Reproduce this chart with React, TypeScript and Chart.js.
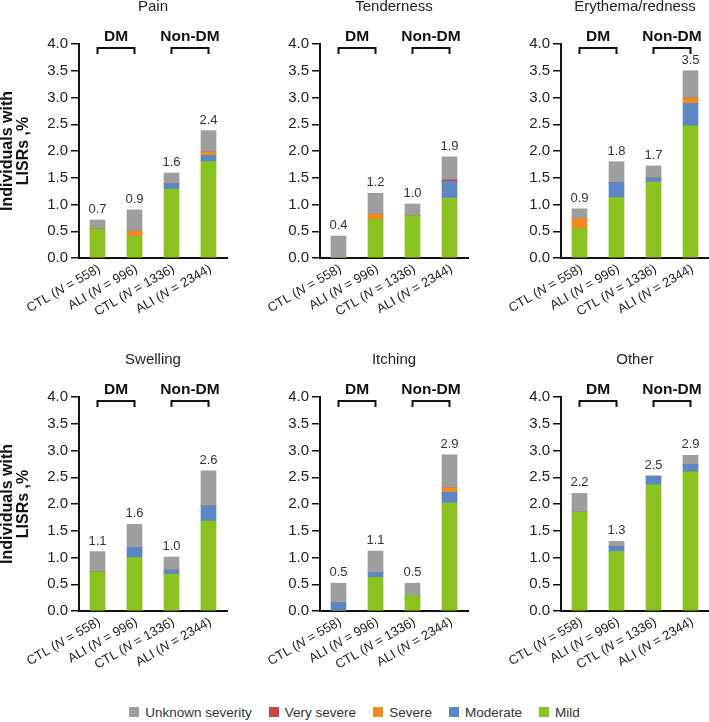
import React, { useEffect, useRef } from "react";
import { Chart, registerables } from "chart.js";

Chart.register(...registerables);

const FONT = '"Liberation Sans", Arial, Helvetica, sans-serif';
Chart.defaults.font.family = FONT;

// ---------- data ----------
const arms = ["CTL", "ALI", "CTL", "ALI"];
const groupSizes = [558, 996, 1336, 2344];
const groupLabels = ["DM", "Non-DM"];
const panelTitles = ["Pain", "Tenderness", "Erythema/redness", "Swelling", "Itching", "Other"];
const yTitle = ["Individuals with", "LISRs ,%"];

const severityNames = ["Mild", "Moderate", "Severe", "Very severe", "Unknown severity"];
const severityColors = ["#8cc21f", "#5b87c7", "#f28a1c", "#c8464a", "#9e9e9e"];
const legendOrder = ["Unknown severity", "Very severe", "Severe", "Moderate", "Mild"];

const painMild = [0.54, 0.40, 1.29, 1.80];
const painModerate = [0, 0, 0.10, 0.12];
const painSevere = [0, 0.10, 0, 0.06];
const painVerySevere = [0, 0, 0, 0];
const painUnknown = [0.17, 0.40, 0.20, 0.40];

const tenderMild = [0, 0.72, 0.79, 1.12];
const tenderModerate = [0, 0, 0, 0.31];
const tenderSevere = [0, 0.10, 0, 0];
const tenderVerySevere = [0, 0, 0, 0.03];
const tenderUnknown = [0.41, 0.39, 0.22, 0.43];

const eryMild = [0.55, 1.13, 1.42, 2.47];
const eryModerate = [0, 0.28, 0.08, 0.42];
const erySevere = [0.19, 0, 0, 0.10];
const eryVerySevere = [0, 0, 0, 0];
const eryUnknown = [0.18, 0.39, 0.22, 0.51];

const swellMild = [0.73, 1.00, 0.69, 1.68];
const swellModerate = [0, 0.19, 0.08, 0.29];
const swellSevere = [0, 0, 0, 0];
const swellVerySevere = [0, 0, 0, 0];
const swellUnknown = [0.38, 0.43, 0.24, 0.65];

const itchMild = [0, 0.63, 0.29, 2.02];
const itchModerate = [0.16, 0.09, 0, 0.20];
const itchSevere = [0, 0, 0, 0.08];
const itchVerySevere = [0, 0, 0, 0];
const itchUnknown = [0.36, 0.40, 0.23, 0.62];

const otherMild = [1.85, 1.11, 2.36, 2.60];
const otherModerate = [0, 0.10, 0.16, 0.14];
const otherSevere = [0, 0, 0, 0];
const otherVerySevere = [0, 0, 0, 0];
const otherUnknown = [0.35, 0.09, 0, 0.17];

const panelSeries = [
  [painMild, painModerate, painSevere, painVerySevere, painUnknown],
  [tenderMild, tenderModerate, tenderSevere, tenderVerySevere, tenderUnknown],
  [eryMild, eryModerate, erySevere, eryVerySevere, eryUnknown],
  [swellMild, swellModerate, swellSevere, swellVerySevere, swellUnknown],
  [itchMild, itchModerate, itchSevere, itchVerySevere, itchUnknown],
  [otherMild, otherModerate, otherSevere, otherVerySevere, otherUnknown],
];

// ---------- layout ----------
const colLeft = [0, 236, 472];
const colWidth = [236, 236, 237];
const axisX = [79, 320, 561];
const plotRight = [227, 468, 709];
const rowTop = [0, 340];
const rowHeight = 340;
const plotTop = [44, 397];
const plotBottom = [258, 611];

const decorPlugin = {
  id: "decor",
  afterDraw(chart: any, _args: any, opts: any) {
    const { ctx, chartArea } = chart;
    const xs = chart.scales.x;
    const ys = chart.scales.y;
    ctx.save();
    // panel title
    ctx.fillStyle = "#222";
    ctx.font = `15px ${FONT}`;
    ctx.textAlign = "center";
    ctx.textBaseline = "middle";
    ctx.fillText(opts.title, (chartArea.left + chartArea.right) / 2, chartArea.top - 37);

    // group labels and brackets
    ctx.font = `bold 15.5px ${FONT}`;
    ctx.strokeStyle = "#111";
    ctx.lineWidth = 2;
    for (let g = 0; g < groupLabels.length; g++) {
      const x0 = xs.getPixelForValue(2 * g);
      const x1 = xs.getPixelForValue(2 * g + 1);
      ctx.fillStyle = "#111";
      ctx.fillText(groupLabels[g], (x0 + x1) / 2, chartArea.top - 7.5);
      ctx.beginPath();
      ctx.moveTo(x0, chartArea.top + 10);
      ctx.lineTo(x0, chartArea.top + 4);
      ctx.lineTo(x1, chartArea.top + 4);
      ctx.lineTo(x1, chartArea.top + 10);
      ctx.stroke();
    }

    // totals
    ctx.font = `13px ${FONT}`;
    ctx.fillStyle = "#333";
    ctx.textBaseline = "alphabetic";
    const n = chart.data.labels.length;
    for (let i = 0; i < n; i++) {
      let total = 0;
      chart.data.datasets.forEach((d: any) => (total += d.data[i]));
      const x = xs.getPixelForValue(i);
      const y = ys.getPixelForValue(total);
      ctx.fillText(total.toFixed(1), x, y - 7);
    }

    // rotated x labels with italic N
    const normal = `13px ${FONT}`;
    const italic = `italic 13px ${FONT}`;
    ctx.fillStyle = "#222";
    ctx.textAlign = "left";
    ctx.textBaseline = "middle";
    for (let i = 0; i < n; i++) {
      const parts: [string, boolean][] = [
        [`${arms[i]} (`, false],
        ["N", true],
        [` = ${groupSizes[i]})`, false],
      ];
      let W = 0;
      const widths = parts.map(([t, it]) => {
        ctx.font = it ? italic : normal;
        const w = ctx.measureText(t).width;
        W += w;
        return w;
      });
      const x = xs.getPixelForValue(i);
      ctx.save();
      ctx.translate(x + 2, chartArea.bottom + 10);
      ctx.rotate(-Math.PI / 6);
      let cx = -W;
      parts.forEach(([t, it], k) => {
        ctx.font = it ? italic : normal;
        ctx.fillText(t, cx, 0);
        cx += widths[k];
      });
      ctx.restore();
    }
    ctx.restore();
  },
};

function Panel({ index }: { index: number }) {
  const ref = useRef<HTMLCanvasElement>(null);
  const c = index % 3;
  const r = Math.floor(index / 3);
  const left = colLeft[c];
  const top = rowTop[r];
  const width = colWidth[c];
  const height = rowHeight;

  useEffect(() => {
    if (!ref.current) return;
    const series = panelSeries[index];
    const chart = new Chart(ref.current, {
      type: "bar",
      data: {
        labels: arms.map((a, i) => `${a} (N = ${groupSizes[i]})`),
        datasets: severityNames.map((name, k) => ({
          label: name,
          data: series[k],
          backgroundColor: severityColors[k],
          borderWidth: 0,
          barThickness: 15,
        })),
      },
      options: {
        responsive: false,
        animation: false,
        devicePixelRatio: 1,
        layout: {
          padding: {
            top: plotTop[r] - top,
            right: left + width - plotRight[c],
            left: 0,
            bottom: 0,
          },
        },
        plugins: {
          legend: { display: false },
          tooltip: { enabled: false },
          decor: { title: panelTitles[index] },
        } as any,
        scales: {
          x: {
            stacked: true,
            grid: { display: false },
            border: { display: true, color: "#111", width: 2 },
            ticks: { display: false },
            afterFit: (s: any) => {
              s.height = top + height - plotBottom[r];
            },
          },
          y: {
            stacked: true,
            min: 0,
            max: 4,
            ticks: {
              stepSize: 0.5,
              color: "#222",
              padding: 3,
              font: { size: 15 },
              callback: (v: any) => Number(v).toFixed(1),
            },
            grid: {
              display: true,
              drawOnChartArea: false,
              drawTicks: true,
              tickLength: 8,
              color: "#111",
              lineWidth: 1.5,
            },
            border: { display: true, color: "#111", width: 2 },
            title: {
              display: c === 0,
              text: yTitle,
              color: "#111",
              font: { size: 16, weight: "bold", lineHeight: 1.0 },
              padding: { top: 0, bottom: 0 },
            },
            afterFit: (s: any) => {
              s.width = axisX[c] - left;
            },
          },
        },
      },
      plugins: [decorPlugin],
    } as any);
    return () => chart.destroy();
  }, [index]);

  return (
    <canvas
      ref={ref}
      width={width}
      height={height}
      style={{ position: "absolute", left, top, width, height }}
    />
  );
}

export default function App() {
  return (
    <div
      style={{
        position: "absolute",
        left: 0,
        top: 0,
        width: 709,
        height: 722,
        background: "#fff",
        overflow: "hidden",
      }}
    >
      {panelTitles.map((_, i) => (
        <Panel key={i} index={i} />
      ))}
      <div
        style={{
          position: "absolute",
          left: 0,
          top: 702,
          width: 709,
          height: 20,
          display: "flex",
          justifyContent: "center",
          alignItems: "center",
          gap: 17,
          fontFamily: FONT,
          fontSize: 13.5,
          color: "#333",
        }}
      >
        {legendOrder.map((name) => {
          const k = severityNames.indexOf(name);
          return (
            <div key={name} style={{ display: "flex", alignItems: "center" }}>
              <span
                style={{
                  display: "inline-block",
                  width: 10,
                  height: 10,
                  background: severityColors[k],
                  marginRight: 6,
                }}
              />
              <span>{name}</span>
            </div>
          );
        })}
      </div>
    </div>
  );
}
